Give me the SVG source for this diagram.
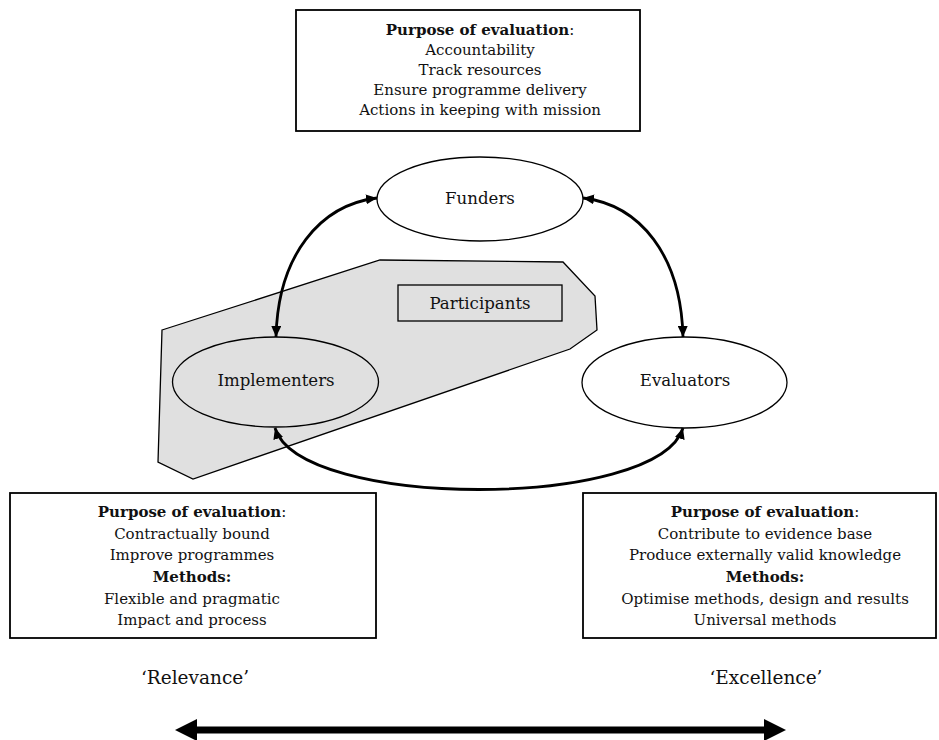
<svg xmlns="http://www.w3.org/2000/svg" width="939" height="740" viewBox="0 0 939 740">
<style>
text{font-family:"DejaVu Serif","Liberation Serif",serif;font-size:15px;fill:#111;text-anchor:middle}
.b{font-weight:bold}
.lbl{font-size:16.6px}
.scale{font-size:18.5px}
.box{fill:#fff;stroke:#000;stroke-width:1.8}
.ell{fill:#fff;stroke:#000;stroke-width:1.3}
.conn{fill:none;stroke:#000;stroke-width:2.8}
</style>
<defs>
<marker id="ah" markerUnits="userSpaceOnUse" markerWidth="12" markerHeight="10" refX="11" refY="5" orient="auto-start-reverse">
<path d="M0,0 L11,5 L0,10 z" fill="#000"/>
</marker>
</defs>
<rect width="939" height="740" fill="#fff"/>

<g id="participants">
<polygon points="162,330 380,260 563,262 595,296 597,330 570,349 193,479 158,462" fill="#e0e0e0" stroke="#000" stroke-width="1.3"/>
<rect x="398" y="285" width="164" height="36" fill="none" stroke="#000" stroke-width="1.3"/>
<text class="lbl" x="480" y="309">Participants</text>
</g>

<g id="funders-purpose">
<rect class="box" x="296" y="10" width="344" height="121"/>
<text x="480" y="35"><tspan class="b">Purpose of evaluation</tspan>:</text>
<text x="480" y="55">Accountability</text>
<text x="480" y="75">Track resources</text>
<text x="480" y="95">Ensure programme delivery</text>
<text x="480" y="115">Actions in keeping with mission</text>
</g>

<g id="funders">
<ellipse class="ell" cx="480" cy="199" rx="103" ry="42"/>
<text class="lbl" x="480" y="204">Funders</text>
</g>

<g id="implementers">
<ellipse class="ell" cx="275.5" cy="382" rx="103" ry="45" style="fill:#e0e0e0"/>
<text class="lbl" x="276" y="386">Implementers</text>
</g>

<g id="evaluators">
<ellipse class="ell" cx="684.5" cy="382.5" rx="102.5" ry="45.5"/>
<text class="lbl" x="685" y="386">Evaluators</text>
</g>

<g id="implementers-purpose">
<rect class="box" x="10" y="493" width="366" height="145"/>
<text x="192" y="517"><tspan class="b">Purpose of evaluation</tspan>:</text>
<text x="192" y="538.5">Contractually bound</text>
<text x="192" y="560">Improve programmes</text>
<text x="192" y="582" class="b">Methods:</text>
<text x="192" y="603.5">Flexible and pragmatic</text>
<text x="192" y="625">Impact and process</text>
</g>

<g id="evaluators-purpose">
<rect class="box" x="583" y="493" width="353" height="145"/>
<text x="765" y="517"><tspan class="b">Purpose of evaluation</tspan>:</text>
<text x="765" y="538.5">Contribute to evidence base</text>
<text x="765" y="560">Produce externally valid knowledge</text>
<text x="765" y="582" class="b">Methods:</text>
<text x="765" y="603.5">Optimise methods, design and results</text>
<text x="765" y="625">Universal methods</text>
</g>

<g id="scale-labels">
<text class="scale" x="195" y="684">‘Relevance’</text>
<text class="scale" x="766" y="684">‘Excellence’</text>
</g>

<g id="connectors">
<path class="conn" d="M377,198 C320,205 278,255 276,337" marker-start="url(#ah)" marker-end="url(#ah)"/>
<path class="conn" d="M583,198 C640,205 681,255 683,337" marker-start="url(#ah)" marker-end="url(#ah)"/>
<path class="conn" d="M275,428 C300,510 658,510 683,428" marker-start="url(#ah)" marker-end="url(#ah)"/>
<line x1="195" y1="730" x2="766" y2="730" stroke="#000" stroke-width="7"/>
<polygon points="175,730 197,719 197,741" fill="#000"/>
<polygon points="786,730 764,719 764,741" fill="#000"/>
</g>
</svg>
